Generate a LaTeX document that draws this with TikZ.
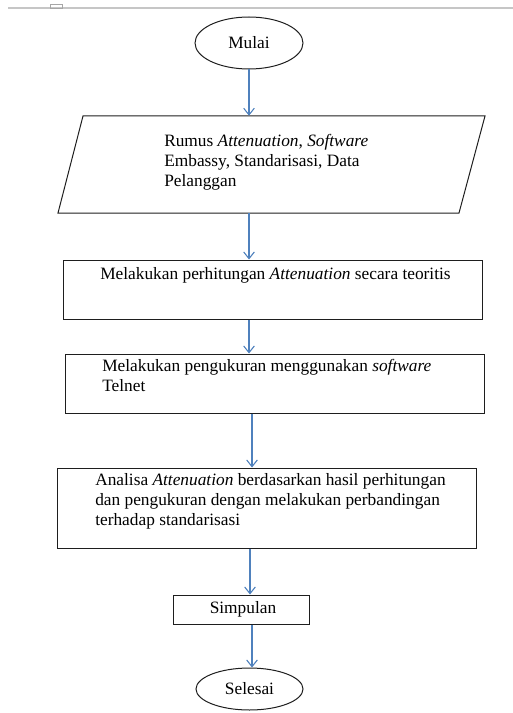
\documentclass[tikz,border=0pt]{standalone}
\usepackage{fontspec}
\setmainfont{Liberation Serif}
\usetikzlibrary{arrows.meta,shapes.geometric}
\definecolor{arrowblue}{RGB}{79,129,189}
\definecolor{edge}{RGB}{30,30,30}
\tikzset{
  term/.style={ellipse,draw=edge,line width=0.75pt,inner sep=0pt,font=\fontsize{13}{15}\selectfont},
  procbox/.style={rectangle,draw=edge,line width=0.75pt,inner sep=0pt},
  txt/.style={inner sep=0pt,align=left,font=\fontsize{13}{15}\selectfont},
  arr/.style={draw=arrowblue,line width=0.8pt,-{Straight Barb[length=5pt,width=8pt]}}
}
\begin{document}
\begin{tikzpicture}[x=0.75pt,y=-0.75pt]
\useasboundingbox (0,0) rectangle (513,713);
% top rule
\draw[gray!45,line width=1.4pt] (8,8) -- (513,8);
\draw[gray!70,line width=0.6pt] (50,4.5) rectangle (62,8);

% Mulai
\node[term,minimum width=81pt,minimum height=39pt] (m) at (249,43) {Mulai};

% parallelogram (input)
\node[draw=none,minimum width=300pt,minimum height=72.75pt,inner sep=0pt] (p) at (271.5,164.5) {};
\draw[edge,line width=0.75pt] (83,116) -- (485,116) -- (459,213) -- (58,213) -- cycle;
\node[txt,anchor=north west] (pt) at (164,134) {Rumus \textit{Attenuation}, \textit{Software}\\Embassy, Standarisasi, Data\\Pelanggan};

% box 1
\node[procbox,minimum width=314.25pt,minimum height=44.25pt] (b1) at (272.5,289.5) {};
\node[txt,anchor=base west] (b1t) at (100,279) {Melakukan perhitungan \textit{Attenuation} secara teoritis};

% box 2
\node[procbox,minimum width=314.25pt,minimum height=44.25pt] (b2) at (274.5,383.5) {};
\node[txt,anchor=north west] (b2t) at (102,359) {Melakukan pengukuran menggunakan \textit{software}\\Telnet};

% box 3
\node[procbox,minimum width=314.25pt,minimum height=60pt] (b3) at (266.5,508) {};
\node[txt,anchor=north west] (b3t) at (95,473) {Analisa \textit{Attenuation} berdasarkan hasil perhitungan\\dan pengukuran dengan melakukan perbandingan\\terhadap standarisasi};

% Simpulan
\node[procbox,minimum width=102pt,minimum height=21.75pt] (s) at (241,609.5) {};
\node[txt] (st) at (243,609.5) {Simpulan};

% Selesai
\node[term,minimum width=80.25pt,minimum height=31.5pt] (e) at (249.5,689) {Selesai};

% connectors
\draw[arr] (m.south) -- (m.south |- p.north);
\draw[arr] (m.south |- p.south) -- (m.south |- b1.north);
\draw[arr] (m.south |- b1.south) -- (m.south |- b2.north);
\draw[arr] ([xshift=2.25pt]m.south |- b2.south) -- ([xshift=2.25pt]m.south |- b3.north);
\draw[arr] ([xshift=0.75pt]m.south |- b3.south) -- ([xshift=0.75pt]m.south |- s.north);
\draw[arr] ([xshift=2.25pt]m.south |- s.south) -- ([xshift=2.25pt]m.south |- e.north);
\end{tikzpicture}
\end{document}
